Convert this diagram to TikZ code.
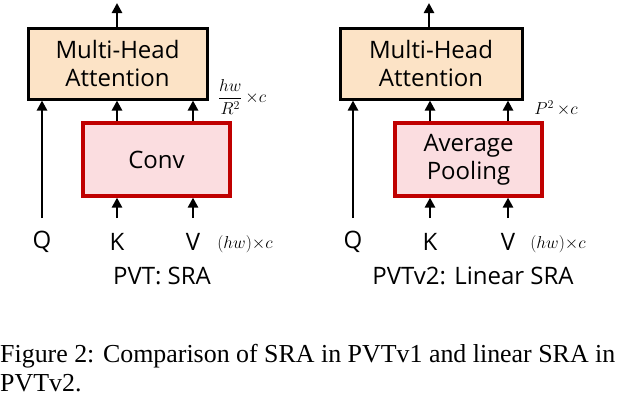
\documentclass[tikz,border=0pt]{standalone}
\usepackage{fontspec}
\setmainfont{Liberation Serif}
\newfontfamily\diagfont{Open Sans}
\usetikzlibrary{arrows.meta}
\definecolor{mhafill}{HTML}{FCE3C6}
\definecolor{convfill}{HTML}{FBDDE0}
\definecolor{convdraw}{HTML}{C00000}
\begin{document}
\begin{tikzpicture}[x=1pt,y=-1pt,
  mha/.style={draw=black, line width=3pt, fill=mhafill, inner sep=0pt, font=\diagfont\fontsize{24}{28}\selectfont, align=center},
  redbox/.style={draw=convdraw, line width=3.2pt, fill=convfill, inner sep=0pt, font=\diagfont\fontsize{24}{28}\selectfont, align=center},
  arr/.style={line width=2.6pt, -{Triangle[width=10pt,length=10pt]}},
  lbl/.style={font=\diagfont\fontsize{24}{28}\selectfont, inner sep=0pt},
  mth/.style={font=\fontsize{18}{20}\selectfont, inner sep=0pt},
  ttl/.style={font=\diagfont\fontsize{24}{28}\selectfont, inner sep=0pt},
  captxt/.style={font=\fontsize{25.9}{30}\selectfont, inner sep=0pt, anchor=base west}]
\useasboundingbox (0,0) rectangle (623,408);
% ---------- left ----------
\node[mha, minimum width=179pt, minimum height=71pt] (mha1) at (117.5,63.5) {Multi-Head\\Attention};
\node[redbox, minimum width=147pt, minimum height=73pt] (conv) at (156.5,159.5) {Conv};
\coordinate (out1) at (117,3);
\coordinate (q1s) at (42,218);
\coordinate (k1s) at (117,218);
\coordinate (v1s) at (193,218);
\draw[arr] (mha1.north -| out1) -- (out1);
\draw[arr] (q1s) -- (mha1.south -| q1s);
\draw[arr] (conv.north -| k1s) -- (mha1.south -| k1s);
\draw[arr] (conv.north -| v1s) -- (mha1.south -| v1s);
\draw[arr] (k1s) -- (conv.south -| k1s);
\draw[arr] (v1s) -- (conv.south -| v1s);
\node[lbl] (q1) at (42,242) {Q};
\node[lbl] (k1) at (117,242) {K};
\node[lbl] (v1) at (193,242) {V};
\node[mth] (d1) at (245,244) {$(hw){\times}c$};
\node[mth] (f1) at (242,97) {$\displaystyle\frac{hw}{R^2}\,{\times}c$};
\node[ttl] (t1) at (162,276) {PVT: SRA};
% ---------- right ----------
\node[mha, minimum width=182pt, minimum height=71pt] (mha2) at (431,63.5) {Multi-Head\\Attention};
\node[redbox, minimum width=147pt, minimum height=73pt] (pool) at (468.5,159.5) {Average\\Pooling};
\coordinate (out2) at (429,3);
\coordinate (q2s) at (353,218);
\coordinate (k2s) at (430,218);
\coordinate (v2s) at (508,218);
\draw[arr] (mha2.north -| out2) -- (out2);
\draw[arr] (q2s) -- (mha2.south -| q2s);
\draw[arr] (pool.north -| k2s) -- (mha2.south -| k2s);
\draw[arr] (pool.north -| v2s) -- (mha2.south -| v2s);
\draw[arr] (k2s) -- (pool.south -| k2s);
\draw[arr] (v2s) -- (pool.south -| v2s);
\node[lbl] (q2) at (353,242) {Q};
\node[lbl] (k2) at (430,242) {K};
\node[lbl] (v2) at (508,242) {V};
\node[mth] (d2) at (558,244) {$(hw){\times}c$};
\node[mth] (p2) at (556,108) {$P^2\,{\times}c$};
\node[ttl] (t2) at (473,276) {PVTv2: Linear SRA};
% ---------- caption ----------
\node[captxt] (c1) at (0,362) {Figure 2: Comparison of SRA in PVTv1 and linear SRA in};
\node[captxt] (c2) at (0,391) {PVTv2.};
\end{tikzpicture}
\end{document}
